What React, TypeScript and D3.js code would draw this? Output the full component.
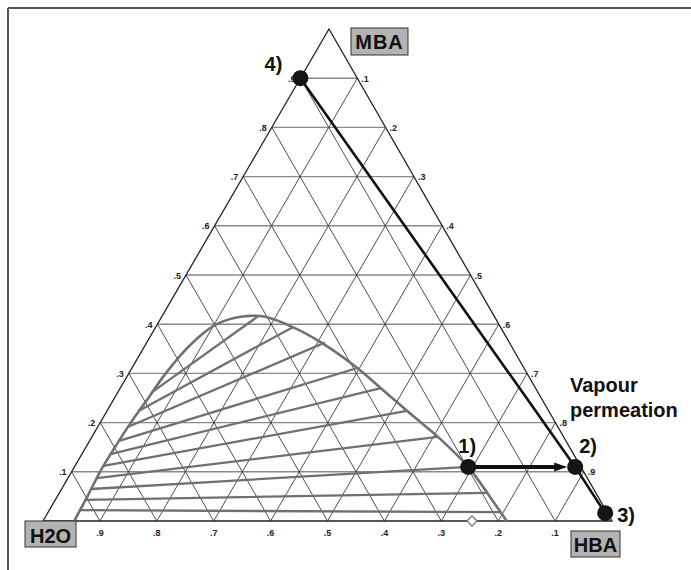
import React from "react";
import * as d3 from "d3";

const WIDTH = 691;
const HEIGHT = 570;

// Grid divisions of the ternary diagram (fractions) and their printed labels
const gridSteps = [0.1, 0.2, 0.3, 0.4, 0.5, 0.6, 0.7, 0.8, 0.9];
const gridLabels = [".1", ".2", ".3", ".4", ".5", ".6", ".7", ".8", ".9"];

// Component names at the corners: left, right, top
const componentNames = ["H2O", "HBA", "MBA"];

// Binodal curve (mass fractions), from the water side over the plait region to the HBA side
const binodalHBA = [0.055, 0.054, 0.053, 0.05, 0.051, 0.054, 0.059, 0.065, 0.079, 0.102, 0.13, 0.154, 0.182, 0.241, 0.308, 0.396, 0.458, 0.527, 0.614, 0.692, 0.761, 0.815];
const binodalMBA = [0.0, 0.022, 0.049, 0.1, 0.15, 0.201, 0.246, 0.301, 0.358, 0.398, 0.413, 0.417, 0.415, 0.394, 0.362, 0.311, 0.27, 0.224, 0.167, 0.11, 0.049, 0.0];

// Tie lines: aqueous-phase end and organic-phase end
const tieAqMBA = [0.262, 0.224, 0.191, 0.163, 0.136, 0.112, 0.087, 0.065, 0.043, 0.022];
const tieAqHBA = [0.06, 0.056, 0.053, 0.052, 0.0505, 0.05, 0.051, 0.052, 0.053, 0.054];
const tieOrgMBA = [0.415, 0.394, 0.362, 0.311, 0.27, 0.224, 0.171, 0.11, 0.057, 0.018];
const tieOrgHBA = [0.168, 0.241, 0.312, 0.396, 0.458, 0.527, 0.608, 0.692, 0.75, 0.794];

// Process states
const stateNames = ["1)", "2)", "3)", "4)"];
const stateHBA = [0.692, 0.88, 0.98, 0.0];
const stateMBA = [0.11, 0.11, 0.016, 0.9];

// Feed marker on the H2O–HBA edge
const feedHBA = 0.754;

const FONT = "'Liberation Sans', Arial, Helvetica, sans-serif";

export default function App() {
  const xBase = d3.scaleLinear().domain([0, 1]).range([43, 612]);
  const yScale = d3.scaleLinear().domain([0, 1]).range([521, 29]);
  const apexShift = 329 - 43;
  const px = (h: number, m: number) => xBase(h) + m * apexShift;
  const py = (m: number) => yScale(m);

  const line = d3
    .line<[number, number]>()
    .x((d) => px(d[0], d[1]))
    .y((d) => py(d[1]));
  const smooth = d3
    .line<[number, number]>()
    .x((d) => px(d[0], d[1]))
    .y((d) => py(d[1]))
    .curve(d3.curveCatmullRom.alpha(0.5));

  const binodal: [number, number][] = binodalHBA.map((h, i) => [h, binodalMBA[i]]);

  const states = stateNames.map((name, i) => ({
    name,
    x: px(stateHBA[i], stateMBA[i]),
    y: py(stateMBA[i]),
  }));

  const outline = line([
    [0, 0],
    [1, 0],
    [0, 1],
    [0, 0],
  ]) as string;

  const dotR = 8;
  const p1 = states[0];
  const p2 = states[1];
  const tipX = p2.x - dotR;
  const headLen = 13;
  const headHalf = 4.5;

  const labelOffsets: Record<string, { dx: number; dy: number; anchor: string }> = {
    "1)": { dx: -1, dy: -14, anchor: "middle" },
    "2)": { dx: 4, dy: -14, anchor: "start" },
    "3)": { dx: 12, dy: 9, anchor: "start" },
    "4)": { dx: -18, dy: -7, anchor: "end" },
  };

  return (
    <svg
      width={WIDTH}
      height={HEIGHT}
      style={{ position: "absolute", left: 0, top: 0, background: "#fff" }}
      fontFamily={FONT}
    >
      {/* frame */}
      <line x1={8} y1={8} x2={WIDTH} y2={8} stroke="#555" strokeWidth={2} />
      <line x1={8} y1={8} x2={8} y2={HEIGHT} stroke="#555" strokeWidth={2} />

      {/* grid */}
      <g fill="none">
        {gridSteps.map((v) => (
          <path
            key={"hz" + v}
            d={line([
              [0, v],
              [1 - v, v],
            ]) as string}
            stroke="#8a8a8a"
            strokeWidth={1.4}
          />
        ))}
        {gridSteps.map((v) => (
          <path
            key={"h" + v}
            d={line([
              [v, 0],
              [v, 1 - v],
            ]) as string}
            stroke="#3a3a3a"
            strokeWidth={0.9}
          />
        ))}
        {gridSteps.map((v) => (
          <path
            key={"w" + v}
            d={line([
              [1 - v, 0],
              [0, 1 - v],
            ]) as string}
            stroke="#3a3a3a"
            strokeWidth={0.9}
          />
        ))}
        <path d={outline} stroke="#222" strokeWidth={1.3} />
      </g>

      {/* tick labels */}
      <g fontSize={9} fontWeight="bold" fill="#222">
        {gridSteps.map((v, i) => (
          <text key={"l" + v} x={px(0, v) - 5} y={py(v) + 3.5} textAnchor="end">
            {gridLabels[i]}
          </text>
        ))}
        {gridSteps.map((v, i) => (
          <text key={"r" + v} x={px(1 - v, v) + 4} y={py(v) + 3.5} textAnchor="start">
            {gridLabels[8 - i]}
          </text>
        ))}
        {gridSteps.map((v, i) => (
          <text key={"b" + v} x={px(v, 0)} y={536} textAnchor="middle">
            {gridLabels[8 - i]}
          </text>
        ))}
      </g>

      {/* tie lines and binodal curve */}
      <g fill="none" stroke="#707070" strokeLinecap="round">
        {tieAqMBA.map((m, i) => (
          <path
            key={"tie" + i}
            d={line([
              [tieAqHBA[i], m],
              [tieOrgHBA[i], tieOrgMBA[i]],
            ]) as string}
            strokeWidth={2.3}
          />
        ))}
        <path d={smooth(binodal) as string} strokeWidth={2.6} />
      </g>

      {/* feed marker */}
      <path
        d={`M${px(feedHBA, 0)},${py(0) - 5}l5,5l-5,5l-5,-5z`}
        fill="#fff"
        stroke="#777"
        strokeWidth={1.3}
      />

      {/* permeation path 4 → 2 → 3 */}
      <path
        d={line([
          [stateHBA[3], stateMBA[3]],
          [stateHBA[1], stateMBA[1]],
          [stateHBA[2], stateMBA[2]],
        ]) as string}
        fill="none"
        stroke="#111"
        strokeWidth={2.6}
      />

      {/* arrow 1 → 2 */}
      <line x1={p1.x} y1={p1.y} x2={tipX - headLen + 1} y2={p2.y} stroke="#111" strokeWidth={4} />
      <path
        d={`M${tipX},${p2.y}L${tipX - headLen},${p2.y - headHalf}L${tipX - headLen},${p2.y + headHalf}Z`}
        fill="#111"
      />

      {/* state points */}
      {states.map((s) => (
        <circle key={s.name} cx={s.x} cy={s.y} r={dotR} fill="#151515" />
      ))}
      <g fontSize={20} fontWeight="bold" fill="#111">
        {states.map((s) => {
          const o = labelOffsets[s.name];
          return (
            <text key={"t" + s.name} x={s.x + o.dx} y={s.y + o.dy} textAnchor={o.anchor}>
              {s.name}
            </text>
          );
        })}
        <text x={570} y={392}>Vapour</text>
        <text x={570} y={417}>permeation</text>
      </g>

      {/* component boxes */}
      <g fontSize={20} fontWeight="bold" fill="#111">
        <rect x={25} y={521} width={51} height={26} fill="#b3b3b3" stroke="#333" strokeWidth={1} />
        <text x={50.5} y={543} textAnchor="middle">{componentNames[0]}</text>
        <rect x={571} y={531} width={49} height={26} fill="#b3b3b3" stroke="#333" strokeWidth={1} />
        <text x={595.5} y={552} textAnchor="middle">{componentNames[1]}</text>
        <rect x={351} y={28} width={57} height={27} fill="#b3b3b3" stroke="#333" strokeWidth={1} />
        <text x={379.5} y={49} textAnchor="middle" letterSpacing={1}>{componentNames[2]}</text>
      </g>
    </svg>
  );
}
